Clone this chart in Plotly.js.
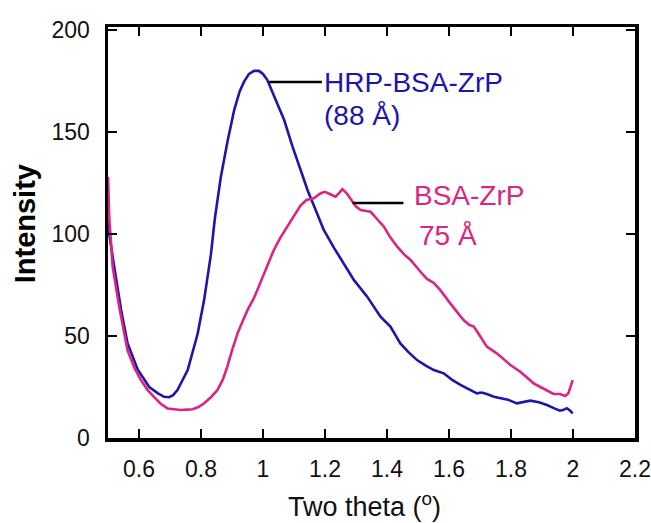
<!DOCTYPE html>
<html>
<head>
<meta charset="utf-8">
<script src="https://cdn.plot.ly/plotly-3.0.1.min.js"></script>
<style>html,body{margin:0;padding:0;background:#fff;}#chart{width:651px;height:523px;}</style>
</head>
<body>
<div id="chart"></div>
<script>
// HRP-BSA-ZrP (blue)
const xHRP = [0.5,0.504,0.520,0.542,0.563,0.596,0.633,0.660,0.681,0.697,0.710,0.724,0.757,0.789,0.810,0.832,0.845,0.864,0.885,0.907,0.925,0.939,0.955,0.971,0.987,1.000,1.014,1.040,1.068,1.095,1.121,1.145,1.164,1.196,1.230,1.261,1.293,1.336,1.379,1.411,1.443,1.470,1.497,1.525,1.551,1.583,1.610,1.637,1.665,1.690,1.705,1.722,1.745,1.765,1.790,1.819,1.840,1.862,1.890,1.916,1.940,1.958,1.970,1.980,1.990,1.999];
const yHRP = [112,100,84,63,46.5,33.5,25,22,20.2,20,21,23.5,33.3,51,67.6,90,108,128,145,160.8,170,174.7,178.5,180,180,178.5,175.5,166,156,143,131,121,114,102,93,85.6,77.5,69.3,59.5,54.6,46.4,42,38.2,35.5,33.3,31.7,28.5,26,23.8,21.9,22.3,21.6,20.2,19.5,18.8,17,17.5,18.3,17.5,16.2,14.5,13.4,13.8,14.6,13.5,12.1];
// BSA-ZrP (magenta)
const xBSA = [0.5,0.504,0.515,0.536,0.563,0.585,0.606,0.628,0.649,0.670,0.692,0.713,0.735,0.755,0.773,0.792,0.810,0.832,0.853,0.870,0.885,0.900,0.918,0.935,0.950,0.972,0.993,1.015,1.035,1.057,1.079,1.100,1.121,1.140,1.164,1.186,1.200,1.217,1.234,1.245,1.256,1.270,1.282,1.300,1.315,1.347,1.370,1.390,1.410,1.433,1.455,1.476,1.508,1.529,1.551,1.572,1.604,1.625,1.647,1.665,1.680,1.700,1.722,1.754,1.775,1.798,1.830,1.850,1.873,1.895,1.916,1.937,1.958,1.975,1.985,1.999];
const yBSA = [128,108,84,64.4,43,34.5,28.4,23.5,20,16.8,14.5,14,13.7,13.9,14.1,15.2,17,20,23.5,28.5,35,43,51.3,57.5,62.7,69,77,85,92.2,98.5,103.6,109,114,116.7,117.5,120,120.7,119.5,118.3,120,122,120,117.5,113.5,111.8,110.9,107,103.6,98.5,93.8,90,87.3,81.5,78,76,72.5,66,62,57.8,55.5,54.6,50,44.8,41.5,39,35.8,32.5,30,26.8,25,23.5,21.6,21.6,20.6,21.9,28.4];

const xTicks = [0.6,0.8,1,1.2,1.4,1.6,1.8,2,2.2];
const xTickText = ['0.6','0.8','1','1.2','1.4','1.6','1.8','2','2.2'];
const yTicks = [0,50,100,150,200];
const yTickText = ['0','50','100','150','200'];

const labelHRP = ['HRP-BSA-ZrP', '(88 Å)'];
const labelBSA = ['BSA-ZrP', '75 Å'];
const xTitle = 'Two theta (<sup>o</sup>)';
const yTitle = '<b>Intensity</b>';

const BLUE = '#1c16aa';
const MAG = '#dc2485';
const FONT = 'Liberation Sans, Arial, sans-serif';

const traces = [
  {x: xHRP, y: yHRP, type: 'scatter', mode: 'lines', line: {color: BLUE, width: 2.6}, name: labelHRP[0]},
  {x: xBSA, y: yBSA, type: 'scatter', mode: 'lines', line: {color: MAG, width: 2.6}, name: labelBSA[0]}
];

const axisCommon = {
  showline: true, linecolor: '#000', linewidth: 3.5, mirror: 'ticks',
  ticks: 'inside', ticklen: 9, tickwidth: 2.5, tickcolor: '#000',
  showgrid: false, zeroline: false,
  tickfont: {family: FONT, size: 23, color: '#111'}
};

const layout = {
  width: 651, height: 523,
  margin: {l: 108, r: 16, t: 27, b: 85},
  paper_bgcolor: '#fff', plot_bgcolor: '#fff',
  showlegend: false,
  xaxis: Object.assign({}, axisCommon, {
    range: [0.5, 2.2], tickmode: 'array', tickvals: xTicks, ticktext: xTickText,
    ticklabelstandoff: 8
  }),
  yaxis: Object.assign({}, axisCommon, {
    range: [0, 201.5], tickmode: 'array', tickvals: yTicks, ticktext: yTickText,
    ticklabelstandoff: 10
  }),
  shapes: [
    {type: 'line', xref: 'x', yref: 'y', x0: 1.02, x1: 1.19, y0: 174.5, y1: 174.5, line: {color: '#000', width: 2.5}},
    {type: 'line', xref: 'x', yref: 'y', x0: 1.289, x1: 1.453, y0: 115.2, y1: 115.2, line: {color: '#000', width: 2.5}}
  ],
  annotations: [
    {xref: 'x', yref: 'y', x: 1.19, y: 174.5, xanchor: 'left', yanchor: 'middle', text: labelHRP[0], showarrow: false, font: {family: FONT, size: 28, color: BLUE}},
    {xref: 'x', yref: 'y', x: 1.19, y: 158.3, xanchor: 'left', yanchor: 'middle', text: labelHRP[1], showarrow: false, font: {family: FONT, size: 28, color: BLUE}},
    {xref: 'x', yref: 'y', x: 1.48, y: 119.1, xanchor: 'left', yanchor: 'middle', text: labelBSA[0], showarrow: false, font: {family: FONT, size: 28, color: MAG}},
    {xref: 'x', yref: 'y', x: 1.496, y: 99.5, xanchor: 'left', yanchor: 'middle', text: labelBSA[1], showarrow: false, font: {family: FONT, size: 28, color: MAG}},
    {xref: 'paper', yref: 'paper', x: 0.486, y: -0.163, xanchor: 'center', yanchor: 'middle', text: xTitle, showarrow: false, font: {family: FONT, size: 27, color: '#111'}},
    {xref: 'paper', x: 25, xanchor: 'center', yref: 'paper', y: 0.52, yanchor: 'middle', text: yTitle, textangle: -90, showarrow: false, font: {family: FONT, size: 29, color: '#000'}}
  ]
};
// y-title x position in paper units (pixel 25 from left edge of figure)
layout.annotations[5].x = (25 - layout.margin.l) / (layout.width - layout.margin.l - layout.margin.r);

Plotly.newPlot('chart', traces, layout, {staticPlot: true, displayModeBar: false});
</script>
</body>
</html>
